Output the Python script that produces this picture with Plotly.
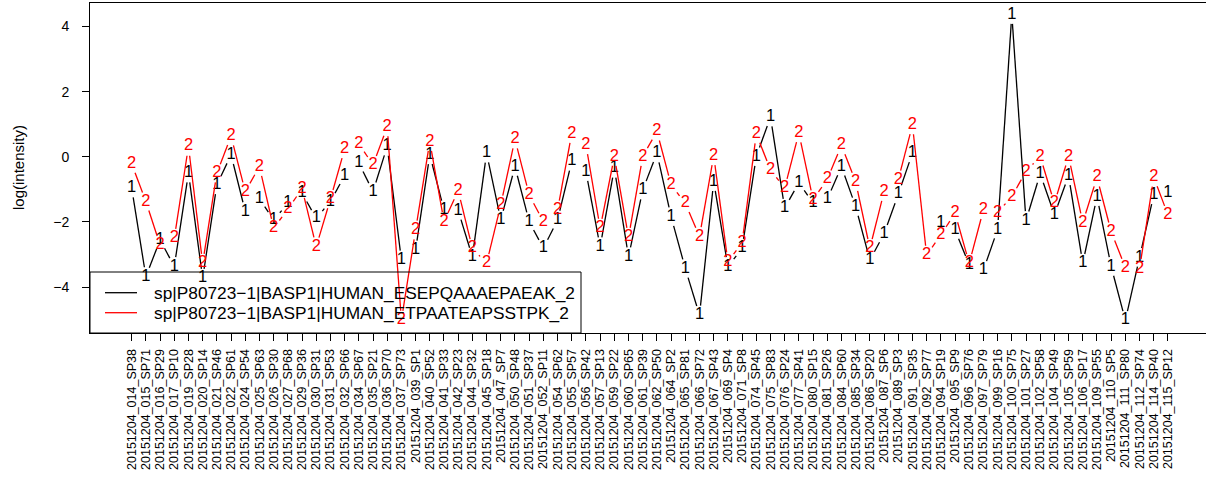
import math
import plotly.graph_objects as go

# ---------------- data ----------------
samples = [
    "20151204_014_SP38", "20151204_015_SP71", "20151204_016_SP29", "20151204_017_SP10",
    "20151204_019_SP28", "20151204_020_SP14", "20151204_021_SP46", "20151204_022_SP61",
    "20151204_024_SP54", "20151204_025_SP63", "20151204_026_SP30", "20151204_027_SP68",
    "20151204_029_SP36", "20151204_030_SP31", "20151204_031_SP53", "20151204_032_SP66",
    "20151204_034_SP67", "20151204_035_SP21", "20151204_036_SP70", "20151204_037_SP73",
    "20151204_039_SP1", "20151204_040_SP52", "20151204_041_SP33", "20151204_042_SP23",
    "20151204_044_SP32", "20151204_045_SP18", "20151204_047_SP7", "20151204_050_SP48",
    "20151204_051_SP37", "20151204_052_SP11", "20151204_054_SP62", "20151204_055_SP57",
    "20151204_056_SP42", "20151204_057_SP13", "20151204_059_SP22", "20151204_060_SP65",
    "20151204_061_SP39", "20151204_062_SP50", "20151204_064_SP2", "20151204_065_SP81",
    "20151204_066_SP72", "20151204_067_SP43", "20151204_069_SP4", "20151204_071_SP8",
    "20151204_074_SP45", "20151204_075_SP83", "20151204_076_SP24", "20151204_077_SP41",
    "20151204_080_SP15", "20151204_081_SP26", "20151204_084_SP60", "20151204_085_SP34",
    "20151204_086_SP20", "20151204_087_SP6", "20151204_089_SP3", "20151204_091_SP35",
    "20151204_092_SP77", "20151204_094_SP19", "20151204_095_SP9", "20151204_096_SP76",
    "20151204_097_SP79", "20151204_099_SP16", "20151204_100_SP75", "20151204_101_SP27",
    "20151204_102_SP58", "20151204_104_SP49", "20151204_105_SP59", "20151204_106_SP17",
    "20151204_109_SP55", "20151204_110_SP5", "20151204_111_SP80", "20151204_112_SP74",
    "20151204_114_SP40", "20151204_115_SP12",
]

name_esep = "sp|P80723\u22121|BASP1|HUMAN_ESEPQAAAEPAEAK_2"
name_etpa = "sp|P80723\u22121|BASP1|HUMAN_ETPAATEAPSSTPK_2"

esep = [
    -0.96, -3.68, -2.55, -3.37, -0.50, -3.73, -0.86, 0.06, -1.68, -1.29,
    -1.94, -1.43, -1.12, -1.89, -1.37, -0.58, -0.19, -1.07, 0.32, -3.17,
    -2.86, 0.06, -1.63, -1.65, -3.07, 0.11, -1.94, -0.30, -1.99, -2.81,
    -1.94, -0.14, -0.45, -2.76, -0.35, -3.07, -1.02, 0.11, -1.84, -3.43,
    -4.86, -0.76, -3.37, -2.81, 0.01, 1.22, -1.58, -0.79, -1.43, -1.30,
    -0.30, -1.53, -3.17, -2.37, -1.15, 0.11, None, -2.02, -2.25, -3.32,
    -3.48, -2.23, 4.37, -1.96, -0.52, -1.78, -0.58, -3.27, -1.22, -3.37,
    -5.02, -3.09, -1.17, -1.10,
]

etpa = [
    -0.22, -1.37, -2.71, -2.50, 0.32, -3.27, -0.50, 0.63, -1.07, -0.30,
    -2.19, -1.61, -0.98, -2.76, -1.30, 0.24, 0.40, -0.25, 0.92, -5.02,
    -2.25, 0.47, -1.99, -1.04, -2.81, -3.27, -1.48, 0.54, -1.17, -1.99,
    -1.63, 0.71, 0.37, -2.19, 0.01, -2.47, 0.01, 0.78, -0.86, -1.43,
    -2.45, 0.03, -3.22, -2.64, 0.70, -0.40, -0.96, 0.73, -1.32, -0.69,
    0.35, -0.76, -2.81, -1.07, -0.71, 0.98, -3.02, -2.40, -1.73, -3.27,
    -1.63, -1.71, -1.22, -0.45, 0.01, -1.43, 0.01, -2.02, -0.63, -2.30,
    -3.40, -3.43, -0.63, -1.78,
]

y_ticks = [-4, -2, 0, 2, 4]

# ---------------- layout geometry ----------------
W, H = 1206, 483
ML, MR, MT, MB = 90, 0, 3, 150
XR = [-1.937, 76.68]
YR = [-5.41, 4.72]
PW, PH = W - ML - MR, H - MT - MB
SX = PW / (XR[1] - XR[0])
SY = PH / (YR[1] - YR[0])
GAP = 9.5  # px gap around point characters (R type="b")

FONT = "Liberation Sans, Arial, Helvetica, sans-serif"

xs = list(range(1, len(samples) + 1))


def gapped(xv, yv):
    X, Y = [], []
    for i in range(len(xv) - 1):
        y0, y1 = yv[i], yv[i + 1]
        if y0 is None or y1 is None:
            continue
        dx = xv[i + 1] - xv[i]
        dy = y1 - y0
        d = math.hypot(dx * SX, dy * SY)
        if d <= 2 * GAP:
            continue
        f = GAP / d
        X += [xv[i] + dx * f, xv[i + 1] - dx * f, None]
        Y += [y0 + dy * f, y1 - dy * f, None]
    return X, Y


fig = go.Figure()

for vals, col, ch, nm in [(esep, "black", "1", name_esep), (etpa, "#FF0000", "2", name_etpa)]:
    lx, ly = gapped(xs, vals)
    fig.add_trace(go.Scatter(x=lx, y=ly, mode="lines", line=dict(color=col, width=1.3),
                             showlegend=False, hoverinfo="skip", name=nm))
    px = [x for x, v in zip(xs, vals) if v is not None]
    py = [v for v in vals if v is not None]
    fig.add_trace(go.Scatter(x=px, y=py, mode="text", text=[ch] * len(px),
                             textposition="middle center",
                             textfont=dict(color=col, size=16.5, family=FONT),
                             showlegend=False, name=nm))


def paper_x(p):
    return (p - ML) / PW


def paper_y(p):
    return (H - MB - p) / PH


# legend (R style, bottom-left, transparent)
shapes = [
    dict(type="rect", xref="paper", yref="paper", x0=paper_x(90), x1=paper_x(581),
         y0=paper_y(333), y1=paper_y(272), line=dict(color="black", width=1)),
]
annotations = []
for ly_px, col, nm in [(292.7, "black", name_esep), (312.7, "#FF0000", name_etpa)]:
    shapes.append(dict(type="line", xref="paper", yref="paper", x0=paper_x(105), x1=paper_x(137),
                       y0=paper_y(ly_px), y1=paper_y(ly_px), line=dict(color=col, width=1.3)))
    annotations.append(dict(xref="paper", yref="paper", x=paper_x(152), y=paper_y(ly_px),
                            text=nm, showarrow=False, xanchor="left", yanchor="middle",
                            font=dict(size=17.3, family=FONT, color="black")))

annotations.append(dict(xref="paper", yref="paper", x=paper_x(18), y=paper_y(168),
                        text="log(intensity)", textangle=-90, showarrow=False,
                        xanchor="center", yanchor="middle",
                        font=dict(size=15, family=FONT, color="black")))

fig.update_layout(
    width=W, height=H,
    margin=dict(l=ML, r=MR, t=MT, b=MB, pad=0),
    paper_bgcolor="white", plot_bgcolor="white",
    font=dict(family=FONT, color="black"),
    shapes=shapes, annotations=annotations,
    showlegend=False,
    xaxis=dict(range=XR, showgrid=False, zeroline=False, showline=True, mirror=True,
               linecolor="black", linewidth=1, ticks="outside", ticklen=7, tickwidth=1,
               tickcolor="black", tickvals=xs, ticktext=samples, tickangle=-90,
               tickfont=dict(size=12.5, family=FONT, color="black"), ticklabelstandoff=3),
    yaxis=dict(range=YR, showgrid=False, zeroline=False, showline=True, mirror=False,
               linecolor="black", linewidth=1, ticks="outside", ticklen=7, tickwidth=1,
               tickcolor="black", tickvals=y_ticks,
               tickfont=dict(size=14, family=FONT, color="black"), ticklabelstandoff=10),
)

fig.write_html(
    "out.html",
    config={"displayModeBar": False},
    post_script="document.body.style.margin='0';document.body.style.overflow='hidden';",
)
